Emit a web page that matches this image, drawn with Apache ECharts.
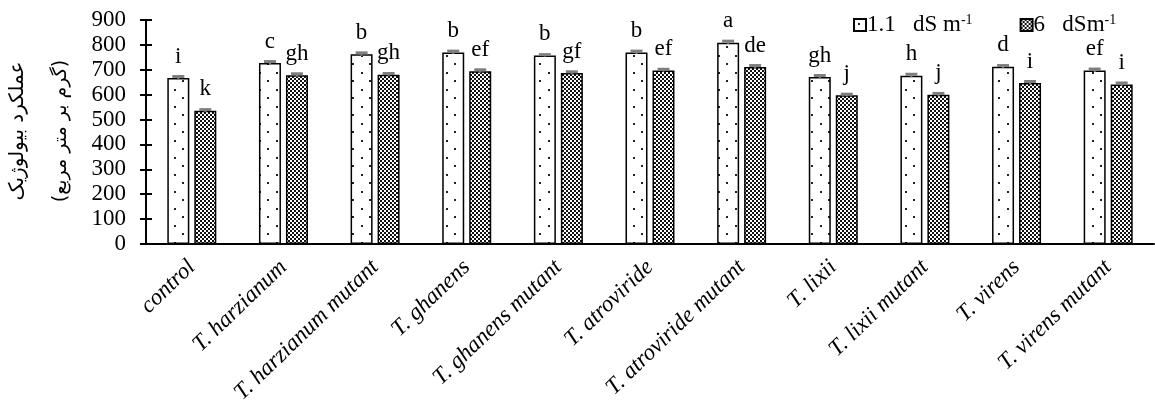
<!DOCTYPE html>
<html>
<head>
<meta charset="utf-8">
<script src="https://cdn.jsdelivr.net/npm/echarts@6/dist/echarts.min.js"></script>
<style>
  html, body { margin: 0; padding: 0; background: #fff; }
  #main { width: 1155px; height: 414px; }
</style>
</head>
<body>
<div id="main"></div>
<script>
// data
var categories = ['control', 'T. harzianum', 'T. harzianum mutant', 'T. ghanens', 'T. ghanens mutant',
    'T. atroviride', 'T. atroviride mutant', 'T. lixii', 'T. lixii mutant', 'T. virens', 'T. virens mutant'];
var lowSalt = [667, 727, 762, 769, 757, 769, 809, 671, 676, 712, 697];      // 1.1 dS m-1
var highSalt = [535, 678, 680, 694, 687, 697, 711, 598, 600, 647, 641];     // 6 dSm-1
var lowErr = [6, 6, 6, 6, 4, 6, 6, 6, 6, 5, 6];
var highErr = [5, 6, 5, 6, 5, 5, 6, 4, 5, 6, 6];
var lowLetters = ['i', 'c', 'b', 'b', 'b', 'b', 'a', 'gh', 'h', 'd', 'ef'];
var highLetters = ['k', 'gh', 'gh', 'ef', 'gf', 'ef', 'de', 'j', 'j', 'i', 'i'];
var yTicks = [0, 100, 200, 300, 400, 500, 600, 700, 800, 900];

var serif = 'Liberation Serif';
var barW = 22, barGapPx = 5;

function dotPattern() {
    var c = document.createElement('canvas');
    c.width = 17; c.height = 17;
    var ctx = c.getContext('2d');
    ctx.fillStyle = '#fff';
    ctx.fillRect(0, 0, 17, 17);
    ctx.fillStyle = '#222';
    ctx.fillRect(4, 4, 2, 2);
    ctx.fillRect(12, 12, 2, 2);
    return c;
}
function checkPattern() {
    var c = document.createElement('canvas');
    c.width = 4; c.height = 4;
    var ctx = c.getContext('2d');
    ctx.fillStyle = '#fff';
    ctx.fillRect(0, 0, 4, 4);
    ctx.fillStyle = '#111';
    ctx.fillRect(0, 0, 2, 2);
    ctx.fillRect(2, 2, 2, 2);
    return c;
}

function errData(vals, errs) {
    return vals.map(function (v, i) { return [i, v, errs[i]]; });
}
function errRender(shift) {
    return function (params, api) {
        var i = api.value(0), v = api.value(1), e = api.value(2);
        var top = api.coord([i, v + e]);
        var bot = api.coord([i, v - e]);
        var x = top[0] + shift;
        return {
            type: 'group',
            children: [
                { type: 'line', shape: { x1: x, y1: top[1], x2: x, y2: bot[1] }, style: { stroke: '#7f7f7f', lineWidth: 2 } },
                { type: 'line', shape: { x1: x - 6, y1: top[1], x2: x + 6, y2: top[1] }, style: { stroke: '#7f7f7f', lineWidth: 3 } }
            ]
        };
    };
}

var legendNames = { '1.1': '1.1   dS m{sup|-1}', '6': '6   dSm{sup|-1}' };

var myChart = echarts.init(document.getElementById('main'));
myChart.setOption({
    animation: false,
    backgroundColor: '#fff',
    grid: { left: 146, right: 1, top: 20, bottom: 170, containLabel: false },
    legend: {
        data: ['1.1', '6'],
        left: 848,
        top: 8,
        itemWidth: 12,
        itemHeight: 12,
        itemGap: 47,
        icon: 'rect',
        formatter: function (name) { return legendNames[name]; },
        textStyle: {
            fontFamily: serif, fontSize: 23, color: '#000', padding: [0, 0, 0, -4],
            rich: { sup: { fontFamily: serif, fontSize: 14, color: '#000', padding: [0, 0, 10, 0] } }
        }
    },
    xAxis: {
        type: 'category',
        data: categories,
        axisLine: { lineStyle: { color: '#000', width: 2 } },
        axisTick: { length: 7, lineStyle: { color: '#000', width: 2 } },
        axisLabel: {
            interval: 0, rotate: 44, margin: 20,
            fontFamily: serif, fontStyle: 'italic', fontSize: 23, color: '#000'
        }
    },
    yAxis: [{
        type: 'value', min: 0, max: 900, interval: 100,
        splitLine: { show: false },
        axisLine: { show: true, lineStyle: { color: '#000', width: 2 } },
        axisTick: { show: true, length: 6, lineStyle: { color: '#000', width: 2 } },
        axisLabel: {
            fontFamily: serif, fontSize: 23, color: '#000', margin: 20,
            formatter: function (v) { return yTicks.indexOf(v) > -1 ? String(v) : ''; }
        }
    }, {
        type: 'value', min: 0, max: 900, interval: 100, position: 'left',
        splitLine: { show: false },
        axisLine: { show: false },
        axisTick: { show: true, inside: true, length: 6, lineStyle: { color: '#000', width: 2 } },
        axisLabel: { show: false }
    }],
    graphic: [
        {
            type: 'text', x: 18, y: 131, rotation: Math.PI / 2,
            style: { text: 'عملکرد بیولوژیک', font: '20px "DejaVu Sans"', fill: '#000', align: 'center', verticalAlign: 'middle' }
        },
        {
            type: 'text', x: 61, y: 131, rotation: Math.PI / 2,
            style: { text: '(گرم بر متر مربع)', font: '19px "DejaVu Sans"', fill: '#000', align: 'center', verticalAlign: 'middle' }
        }
    ],
    series: [
        {
            name: '1.1', type: 'bar', data: lowSalt, barWidth: barW,
            barGap: (barGapPx / barW * 100) + '%',
            itemStyle: { color: { image: dotPattern(), repeat: 'repeat' }, borderColor: '#000', borderWidth: 1.5 },
            label: {
                show: true, position: 'top', distance: 10,
                fontFamily: serif, fontSize: 23, color: '#000',
                formatter: function (p) { return lowLetters[p.dataIndex]; }
            }
        },
        {
            name: '6', type: 'bar', data: highSalt, barWidth: barW,
            itemStyle: { color: { image: checkPattern(), repeat: 'repeat' }, borderColor: '#000', borderWidth: 1.5 },
            label: {
                show: true, position: 'top', distance: 10,
                fontFamily: serif, fontSize: 23, color: '#000',
                formatter: function (p) { return highLetters[p.dataIndex]; }
            }
        },
        {
            type: 'custom', name: 'err1', data: errData(lowSalt, lowErr),
            renderItem: errRender(-(barW + barGapPx) / 2), z: 3, silent: true
        },
        {
            type: 'custom', name: 'err2', data: errData(highSalt, highErr),
            renderItem: errRender((barW + barGapPx) / 2), z: 3, silent: true
        }
    ]
});
</script>
</body>
</html>
